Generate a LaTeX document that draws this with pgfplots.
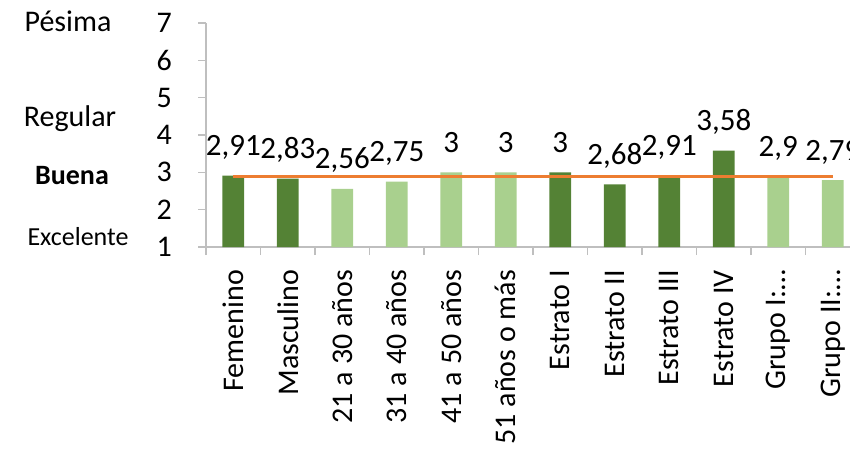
\documentclass[border=0pt]{standalone}
\usepackage{pgfplots}
\pgfplotsset{compat=1.18}
\usepackage{fontspec}
\setmainfont{Carlito}
\definecolor{dkgreen}{HTML}{548235}
\definecolor{ltgreen}{HTML}{A9D08E}
\definecolor{lineor}{HTML}{ED7D31}
\definecolor{axgray}{HTML}{BFBFBF}
\begin{document}
\begin{tikzpicture}
\path[use as bounding box, clip] (0,0) rectangle (425pt,225pt);
\begin{axis}[
  at={(103pt,101.5pt)}, anchor=south west,
  scale only axis, width=327pt, height=112pt,
  xmin=-0.5, xmax=11.5, ymin=1, ymax=7,
  axis x line*=bottom, axis y line*=left,
  axis line style={-, draw=axgray, line width=0.8pt},
  ytick={1,...,7},
  xtick={0,...,11},
  xticklabels={Femenino,Masculino,21 a 30 años,31 a 40 años,41 a 50 años,51 años o más,Estrato I,Estrato II,Estrato III,Estrato IV,Grupo I:…,Grupo II:…},
  minor xtick={-0.5,0.5,...,11.5},
  tick align=outside,
  major tick length=4pt, minor tick length=4pt,
  xtick style={draw=none},
  ytick style={draw=axgray, line width=0.8pt},
  minor x tick style={draw=axgray, line width=0.8pt},
  /pgf/number format/assume math mode=true,
  /pgf/number format/use comma,
  tick label style={font=\fontsize{15}{18}\selectfont, text=black},
  xticklabel style={rotate=90, anchor=east, xshift=-4pt},
  yticklabel style={xshift=-9.5pt},
  ybar, bar width=0.4, bar shift=0pt,
  nodes near coords style={font=\fontsize{15.5}{18}\selectfont, anchor=base, yshift=10pt, text=black},
]
\addplot[fill=dkgreen, draw=none, nodes near coords] coordinates {(0,2.91) (1,2.83) (6,3) (7,2.68) (8,2.91) (9,3.58)};
\addplot[fill=ltgreen, draw=none, nodes near coords] coordinates {(2,2.56) (3,2.75) (4,3) (5,3) (10,2.9) (11,2.79)};
\addplot[sharp plot, draw=lineor, line width=1.6pt, mark=none] coordinates {(0,2.89) (11,2.89)};
\end{axis}
\node[anchor=base, font=\fontsize{15}{18}\selectfont] at (34pt,209pt) {Pésima};
\node[anchor=base, font=\fontsize{15}{18}\selectfont] at (35pt,161.5pt) {Regular};
\node[anchor=base, font=\fontsize{14}{17}\selectfont\bfseries] at (36pt,132.5pt) {Buena};
\node[anchor=base, font=\fontsize{13}{16}\selectfont] at (39pt,102.5pt) {Excelente};
\end{tikzpicture}
\end{document}
